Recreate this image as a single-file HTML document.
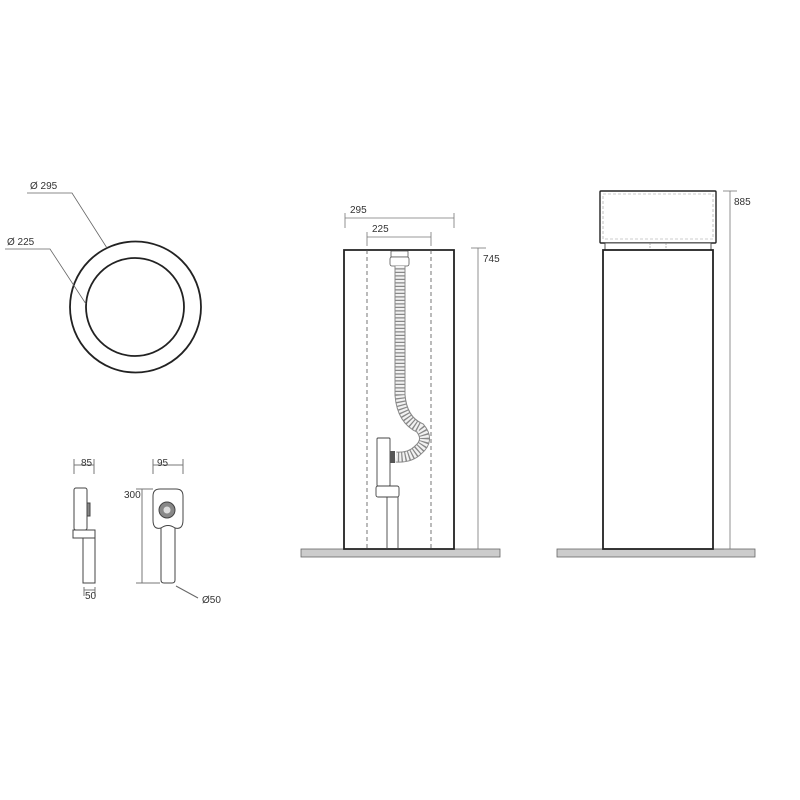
<!DOCTYPE html>
<html><head><style>body{margin:0;background:#fff}svg{display:block}text{font-family:"Liberation Sans",sans-serif;font-size:10px;fill:#333}</style></head><body>
<svg width="800" height="800" viewBox="0 0 800 800" xmlns="http://www.w3.org/2000/svg">
<rect width="800" height="800" fill="#fff"/>
<circle cx="135.5" cy="307" r="65.5" fill="none" stroke="#222" stroke-width="1.8"/>
<circle cx="135" cy="307" r="49" fill="none" stroke="#222" stroke-width="1.8"/>
<polyline points="27,193 72,193 107,248" fill="none" stroke="#666" stroke-width="0.8"/>
<polyline points="5,249 50,249 86,304" fill="none" stroke="#666" stroke-width="0.8"/>
<text x="30" y="189">Ø 295</text>
<text x="7" y="245">Ø 225</text>

<g fill="none" stroke="#444" stroke-width="1">
<line x1="74" y1="465" x2="94" y2="465" stroke="#777"/><line x1="74" y1="459" x2="74" y2="474" stroke="#777"/><line x1="94" y1="459" x2="94" y2="474" stroke="#777"/>
<rect x="74" y="488" width="13" height="42" rx="2"/>
<rect x="87" y="503" width="3" height="13" fill="#888"/>
<rect x="73" y="530" width="22" height="8"/>
<path d="M83 538 V583 H95 V538"/>
<line x1="84" y1="587" x2="84" y2="596" stroke="#777"/><line x1="95" y1="587" x2="95" y2="596" stroke="#777"/><line x1="84" y1="590" x2="95" y2="590" stroke="#777"/>
<line x1="153" y1="465" x2="183" y2="465" stroke="#777"/><line x1="153" y1="459" x2="153" y2="474" stroke="#777"/><line x1="183" y1="459" x2="183" y2="474" stroke="#777"/>
<path d="M161 528 Q153 530 153 520 V496 Q153 489 160 489 H176 Q183 489 183 496 V520 Q183 530 175 528 Q168 523 161 528 Z"/>
<path d="M161 528 V580 Q161 583 164 583 H172 Q175 583 175 580 V528"/>
<line x1="142" y1="489" x2="142" y2="583" stroke="#777"/><line x1="136" y1="489" x2="153" y2="489" stroke="#777"/><line x1="136" y1="583" x2="160" y2="583" stroke="#777"/>
<line x1="176" y1="586" x2="198" y2="598" stroke="#666"/>
</g>
<circle cx="167" cy="510" r="8" fill="#888" stroke="#444"/>
<circle cx="167" cy="510" r="3.5" fill="#ddd"/>
<text x="81" y="466" font-size="9">85</text>
<text x="157" y="466" font-size="9">95</text>
<text x="124" y="498">300</text>
<text x="85" y="599" font-size="8">50</text>
<text x="202" y="603">Ø50</text>

<rect x="301" y="549" width="199" height="8" fill="#ccc" stroke="#666" stroke-width="0.8"/>
<g stroke="#777" stroke-width="0.8" fill="none">
<line x1="345" y1="218" x2="454" y2="218"/><line x1="345" y1="213" x2="345" y2="228"/><line x1="454" y1="213" x2="454" y2="228"/>
<line x1="367" y1="237" x2="431" y2="237"/><line x1="367" y1="232" x2="367" y2="246"/><line x1="431" y1="232" x2="431" y2="246"/>
<line x1="478" y1="248" x2="478" y2="549"/><line x1="471" y1="248" x2="486" y2="248"/>
</g>
<text x="350" y="213">295</text><text x="372" y="232">225</text><text x="483" y="262">745</text>
<path d="M344 549 V250 H454 V549 Z" fill="none" stroke="#222" stroke-width="1.8"/>
<line x1="367" y1="250" x2="367" y2="549" stroke="#555" stroke-width="0.8" stroke-dasharray="4,3"/>
<line x1="431" y1="250" x2="431" y2="549" stroke="#555" stroke-width="0.8" stroke-dasharray="4,3"/>
<rect x="391" y="251" width="17" height="6" fill="#fff" stroke="#555" stroke-width="0.8"/>
<rect x="390" y="257" width="19" height="9" rx="2" fill="#fff" stroke="#555" stroke-width="0.8"/>
<path d="M400 266 V395 Q402 420 420 428 Q430 440 418 450 Q410 458 396 457" fill="none" stroke="#888" stroke-width="11"/>
<path d="M400 266 V395 Q402 420 420 428 Q430 440 418 450 Q410 458 396 457" fill="none" stroke="#f2f2f2" stroke-width="9" stroke-dasharray="2.2,1.3"/>
<rect x="377" y="438" width="13" height="48" rx="1" fill="#fff" stroke="#444" stroke-width="0.9"/>
<rect x="390" y="451" width="5" height="12" fill="#555"/>
<rect x="376" y="486" width="23" height="11" rx="2" fill="#fff" stroke="#444" stroke-width="0.9"/>
<path d="M387 497 V549 M398 497 V549" stroke="#444" stroke-width="0.9"/>

<rect x="557" y="549" width="198" height="8" fill="#ccc" stroke="#666" stroke-width="0.8"/>
<rect x="600" y="191" width="116" height="52" rx="1" fill="#fff" stroke="#222" stroke-width="1.4"/>
<rect x="603" y="194" width="110" height="45" fill="none" stroke="#999" stroke-width="0.6" stroke-dasharray="3,2"/>
<rect x="605" y="243" width="106" height="7" fill="#fff" stroke="#444" stroke-width="0.9"/>
<path d="M650 243 V250 M666 243 V250" stroke="#888" stroke-width="0.6" stroke-dasharray="2,1"/>
<rect x="603" y="250" width="110" height="299" fill="none" stroke="#222" stroke-width="1.8"/>
<line x1="730" y1="191" x2="730" y2="549" stroke="#777" stroke-width="0.8"/>
<line x1="723" y1="191" x2="737" y2="191" stroke="#777" stroke-width="0.8"/>
<text x="734" y="205">885</text>
</svg>
</body></html>
